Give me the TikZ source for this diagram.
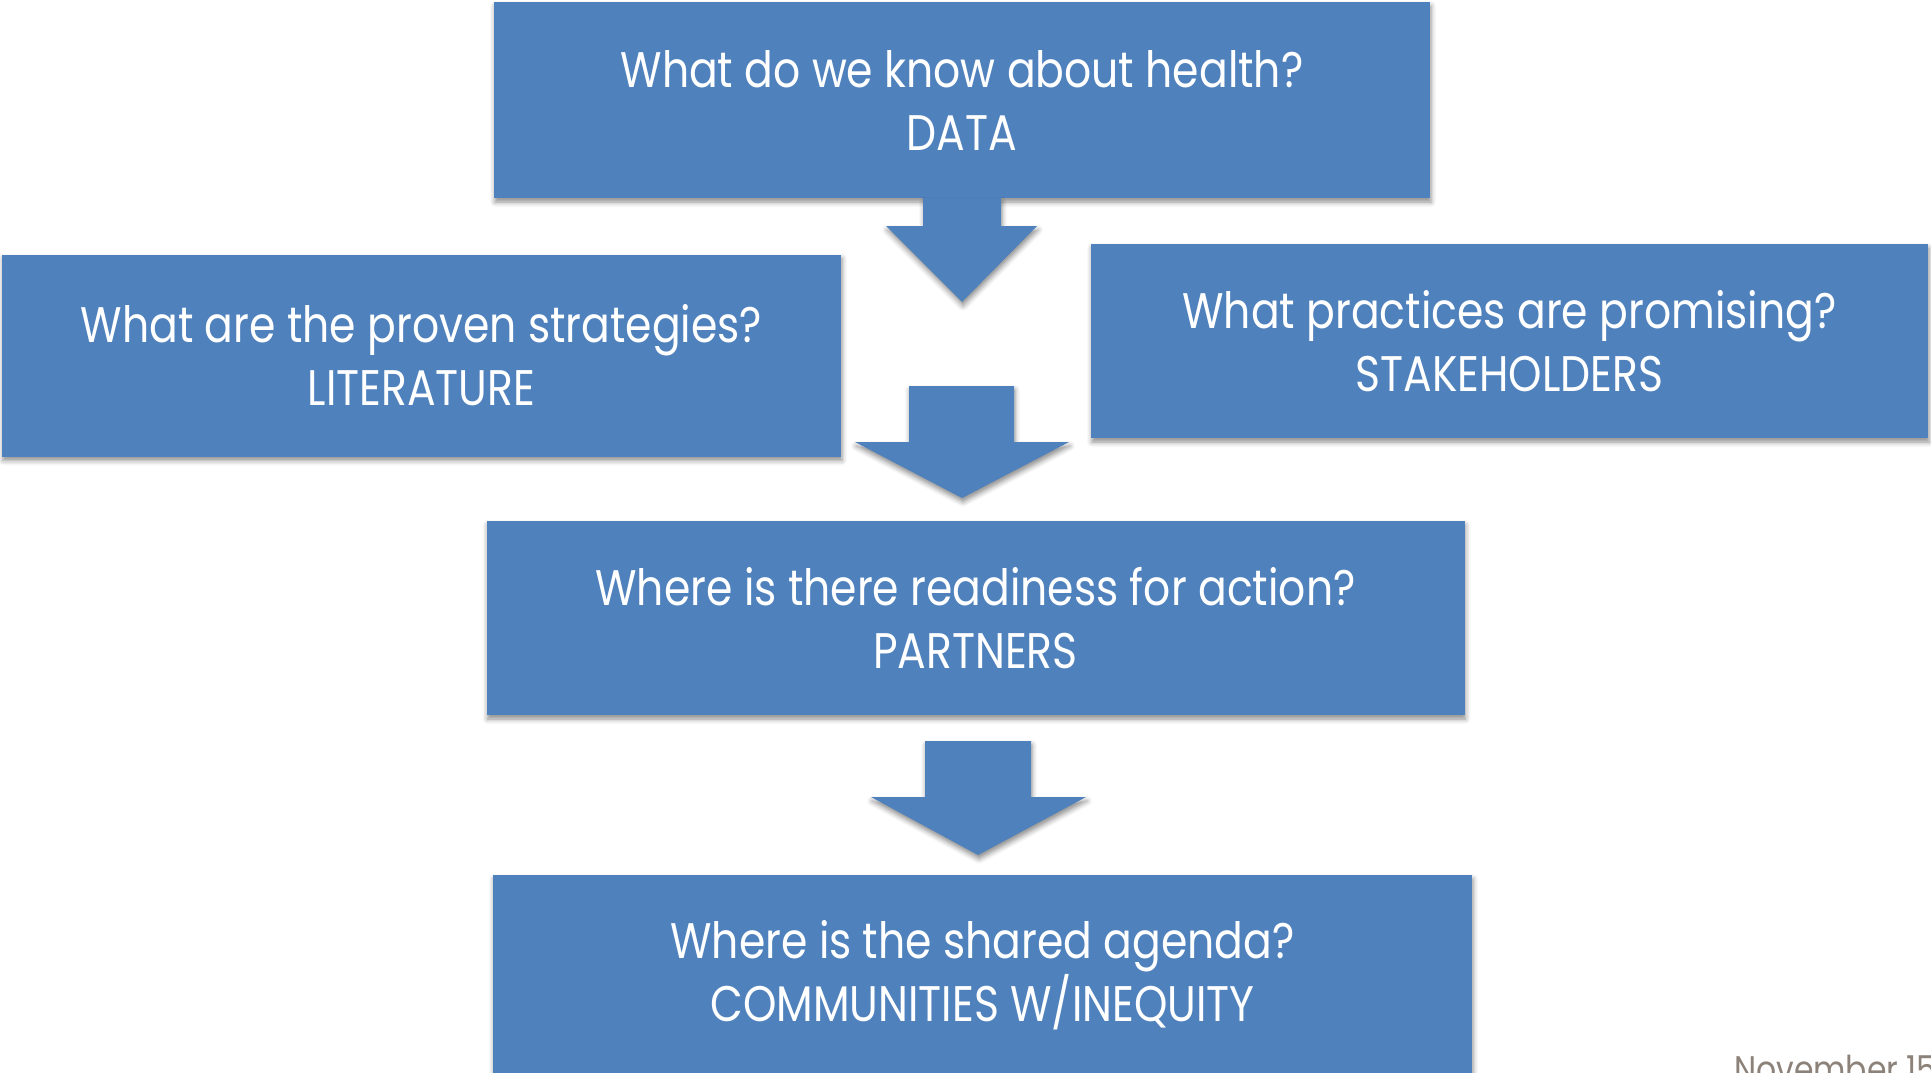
\documentclass[tikz,border=0pt]{standalone}
\usepackage{fontspec}
\setmainfont{Poppins}[FakeStretch=0.85]
\usepackage{tikz}
\usetikzlibrary{calc,shadows.blur}
\definecolor{boxblue}{HTML}{4F81BD}
\definecolor{dategray}{HTML}{8C8279}

\begin{document}
\begin{tikzpicture}[x=1pt,y=-1pt,
    qbox/.style={fill=boxblue, text=white, align=center, inner sep=0pt,
      font=\fontsize{50}{63}\selectfont,
      blur shadow={shadow xshift=1pt, shadow yshift=-4pt,
        shadow blur radius=5pt, shadow opacity=45}},
    bigarrow/.style={fill=boxblue,
      blur shadow={shadow xshift=1pt, shadow yshift=-4pt,
        shadow blur radius=5pt, shadow opacity=45}}]
  \useasboundingbox (0,0) rectangle (1931,1073);
  \clip (0,0) rectangle (1931,1073); % page edge cuts the last box

  % question boxes
  \node[qbox, minimum width=936pt, minimum height=196pt] (data) at (962,100)
    {What do we know about health?\\DATA};
  \node[qbox, minimum width=839pt, minimum height=202pt] (lit) at (421.5,355.5)
    {What are the proven strategies?\\LITERATURE};
  \node[qbox, minimum width=837pt, minimum height=194pt] (stake) at (1509.5,341)
    {What practices are promising?\\STAKEHOLDERS};
  \node[qbox, minimum width=978pt, minimum height=194pt] (partners) at (975.5,618)
    {Where is there readiness for action?\\PARTNERS};
  \node[qbox, minimum width=979pt, minimum height=200pt] (agenda) at (982.5,975)
    {Where is the shared agenda?\\COMMUNITIES W/INEQUITY};

  % block arrows
  \fill[bigarrow] (923,198) -- (1001,198) -- (1001,226) -- (1037,226)
    -- (962,302) -- (886,226) -- (923,226) -- cycle;
  \fill[bigarrow] (909,386) -- (1014,386) -- (1014,442) -- (1069,442)
    -- (962,498) -- (855,442) -- (909,442) -- cycle;
  \fill[bigarrow] (925,741) -- (1031,741) -- (1031,797) -- (1086,797)
    -- (978,855) -- (871,797) -- (925,797) -- cycle;

  % date in the corner
  \node[anchor=base west, inner sep=0pt, text=dategray,
    font=\fontsize{37}{44}\selectfont] (date) at (1734,1082) {November 15};
\end{tikzpicture}
\end{document}
